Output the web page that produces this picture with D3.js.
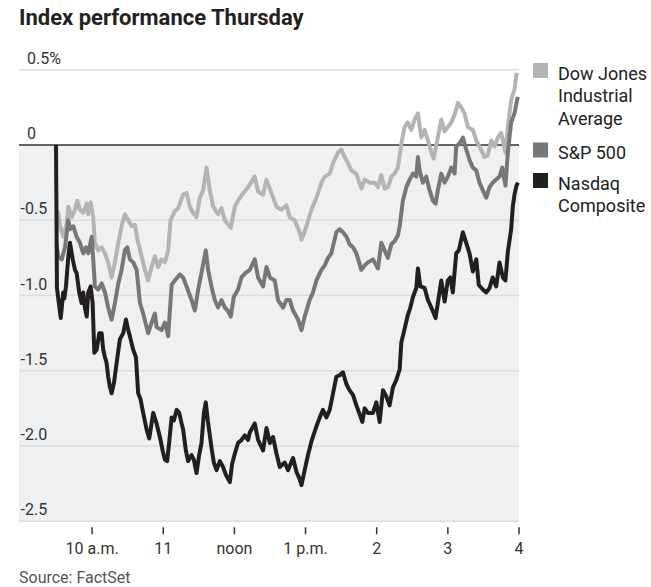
<!DOCTYPE html>
<html><head><meta charset="utf-8">
<script src="https://cdn.jsdelivr.net/npm/d3@7"></script>
<style>
body{margin:0;background:#fff;}
svg{display:block;font-family:Roboto,"Noto Sans",sans-serif;}
</style>
</head><body>
<svg id="chart" width="651" height="587"></svg>
<script>
const title = "Index performance Thursday";
const source = "Source: FactSet";
const seriesNames = ["Dow Jones Industrial Average", "S&P 500", "Nasdaq Composite"];
const legendLines = [["Dow Jones", "Industrial", "Average"], ["S&P 500"], ["Nasdaq", "Composite"]];
const seriesColors = ["#b4b4b6", "#77777a", "#231f20"];
const yTicks = [0.5, 0, -0.5, -1, -1.5, -2, -2.5];
const yTickLabels = ["0.5%", "0", "-0.5", "-1.0", "-1.5", "-2.0", "-2.5"];
const xTickHours = [10, 11, 12, 13, 14, 15, 16];
const xTickLabels = ["10 a.m.", "11", "noon", "1 p.m.", "2", "3", "4"];

// [minutes after 9:30 a.m., % change]
const dow = [[0.4,-0.53],[1.9,-0.45],[3.4,-0.54],[6.1,-0.61],[9,-0.52],[10.4,-0.41],[13.2,-0.48],[16,-0.43],[17.9,-0.37],[20.2,-0.43],[23,-0.45],[25.9,-0.39],[27.2,-0.46],[29.2,-0.38],[31.4,-0.48],[32.8,-0.65],[35.6,-0.70],[38.5,-0.68],[41.3,-0.72],[44,-0.78],[46.9,-0.88],[49.7,-0.78],[52.5,-0.65],[55.3,-0.54],[58.1,-0.46],[60.9,-0.50],[63.8,-0.54],[66.5,-0.53],[69.3,-0.65],[72.2,-0.74],[75,-0.83],[77.7,-0.90],[80.6,-0.81],[83.4,-0.74],[86.2,-0.81],[89,-0.76],[91.8,-0.78],[94.6,-0.70],[96.6,-0.50],[100.2,-0.44],[103,-0.42],[107.2,-0.33],[110.1,-0.32],[112.9,-0.41],[115.6,-0.45],[118.5,-0.48],[121.3,-0.35],[124.1,-0.30],[126.9,-0.15],[129.7,-0.30],[132.5,-0.41],[136.7,-0.46],[139.6,-0.42],[142.3,-0.50],[147.4,-0.55],[150.8,-0.41],[153.5,-0.37],[157.8,-0.32],[162,-0.28],[167.6,-0.21],[170.4,-0.31],[174.6,-0.33],[177.5,-0.23],[181.7,-0.32],[185.9,-0.41],[190.1,-0.43],[194.3,-0.40],[197.1,-0.48],[201.3,-0.50],[205.5,-0.58],[207,-0.63],[211.2,-0.54],[215.4,-0.43],[219.6,-0.35],[223.8,-0.25],[226.6,-0.21],[230.8,-0.19],[233.6,-0.12],[237.8,-0.05],[240.6,-0.03],[243.4,-0.08],[246.2,-0.12],[249.1,-0.17],[253.3,-0.19],[257.5,-0.29],[260.3,-0.23],[264.5,-0.25],[268.7,-0.25],[271.5,-0.28],[274.3,-0.20],[277.1,-0.29],[279.9,-0.28],[282.8,-0.21],[285.5,-0.19],[288.3,-0.15],[291.2,0.01],[294,0.12],[296.7,0.15],[299.6,0.10],[302.4,0.17],[305.2,0.21],[308,0.05],[310.8,0.10],[313.6,0.03],[316.5,-0.05],[318.4,-0.09],[322,0.05],[324.9,0.17],[327.7,0.09],[330.4,0.12],[333.3,0.15],[336.1,0.20],[338.9,0.28],[341.7,0.25],[344.5,0.21],[347.3,0.12],[351.5,0.10],[354.4,0.03],[357.1,-0.01],[361.3,-0.08],[364.1,-0.07],[367,0.03],[369.8,-0.01],[372.6,0.05],[375.4,0.08],[379,-0.05],[381,0.12],[383.8,0.30],[386.6,0.37],[388.5,0.48]];

const sp500 = [[0.4,-0.66],[1.9,-0.74],[4.8,-0.76],[7.6,-0.68],[10.4,-0.50],[11.8,-0.56],[14.6,-0.54],[17.4,-0.61],[20.2,-0.65],[23,-0.72],[25.3,-0.68],[27.2,-0.72],[30.1,-0.61],[31.4,-0.76],[32.8,-0.94],[35.6,-0.96],[38.5,-0.92],[41.3,-0.98],[44,-1.08],[46.9,-1.16],[49.7,-1.05],[52.5,-0.92],[55.3,-0.83],[58.1,-0.70],[60.1,-0.68],[62.3,-0.76],[65.1,-0.78],[68,-0.83],[70.8,-1.05],[73.5,-1.12],[77.7,-1.25],[80.6,-1.18],[83.4,-1.12],[84.8,-1.21],[89,-1.23],[91.8,-1.18],[94.6,-1.27],[97.5,-0.93],[100.2,-0.90],[104.4,-0.86],[107.2,-0.88],[110.1,-0.94],[114.3,-1.03],[117.1,-1.10],[119.9,-0.96],[122.7,-0.85],[126.3,-0.70],[128.3,-0.83],[131.1,-0.94],[133.9,-1.03],[136.7,-1.08],[139.6,-1.03],[142.3,-1.08],[144.9,-1.10],[147.4,-1.14],[149.9,-1.01],[153.5,-0.96],[156.4,-0.88],[159.8,-0.85],[163.4,-0.83],[167.6,-0.76],[170.4,-0.88],[174.6,-0.94],[177.5,-0.81],[180.3,-0.88],[184.5,-0.90],[187.2,-1.03],[191.5,-1.08],[194.3,-1.03],[197.1,-1.03],[199.9,-1.10],[204.1,-1.16],[207,-1.23],[209.7,-1.14],[213.9,-1.03],[216.7,-0.98],[219.6,-0.90],[223.8,-0.83],[226.6,-0.80],[229.4,-0.75],[232.2,-0.72],[236.4,-0.58],[239.2,-0.56],[242,-0.58],[244.9,-0.61],[247.6,-0.66],[250.4,-0.68],[253.3,-0.72],[257.5,-0.83],[260.3,-0.80],[263,-0.78],[267.3,-0.76],[271.5,-0.82],[274.3,-0.65],[277.1,-0.70],[279.9,-0.75],[282.8,-0.66],[285.5,-0.64],[288.3,-0.60],[289.8,-0.54],[292.5,-0.37],[295.4,-0.28],[298.2,-0.23],[301,-0.19],[303.8,-0.21],[305.2,-0.08],[306.6,-0.17],[309.4,-0.25],[312.2,-0.21],[315,-0.30],[317.8,-0.37],[320.1,-0.39],[322,-0.30],[324.9,-0.19],[327.7,-0.25],[330.4,-0.21],[333.3,-0.15],[336.1,-0.19],[337.5,-0.01],[340.3,0.01],[343.1,0.05],[345.9,-0.03],[348.7,-0.10],[351.5,-0.15],[354.4,-0.17],[357.1,-0.25],[359.9,-0.30],[362.8,-0.35],[365.6,-0.28],[368.3,-0.25],[371.2,-0.23],[374,-0.21],[376.3,-0.15],[379,-0.27],[381,-0.05],[383.8,0.15],[386.6,0.21],[389.4,0.32]];

const nasdaq = [[0,0],[0.8,-0.95],[4,-1.15],[6.1,-0.98],[7,-1.02],[8.4,-0.94],[10.4,-0.74],[11.8,-0.65],[14.1,-0.76],[16,-0.83],[17.4,-0.85],[19.6,-0.98],[21.6,-1.05],[23,-0.98],[24.4,-1.08],[25.9,-1.14],[27.2,-0.98],[29.2,-0.94],[30.9,-1.05],[32.3,-1.38],[34.3,-1.36],[36.5,-1.25],[38.5,-1.25],[39.8,-1.36],[41.3,-1.41],[42.7,-1.45],[44,-1.54],[45.5,-1.61],[46.9,-1.65],[48.9,-1.58],[51.1,-1.45],[53.9,-1.29],[56.7,-1.25],[59,-1.16],[60.9,-1.23],[62.3,-1.27],[65.1,-1.36],[67.4,-1.41],[69.3,-1.65],[71.3,-1.69],[73.5,-1.78],[76.4,-1.89],[78.6,-1.95],[80.6,-1.85],[82,-1.78],[84.8,-1.85],[87.6,-1.94],[89.9,-2.03],[91.8,-2.09],[93.7,-2.10],[95.4,-1.98],[97.5,-1.81],[99.4,-1.83],[101.7,-1.76],[103.9,-1.78],[105.9,-1.85],[107.2,-1.89],[109.5,-2.03],[111.4,-2.10],[114.3,-2.06],[116.2,-2.09],[118.5,-2.18],[120.7,-2.06],[122.7,-1.98],[124.7,-1.78],[126.3,-1.71],[128,-1.83],[131.1,-2.01],[133.1,-2.11],[135.4,-2.16],[138.1,-2.10],[140.9,-2.14],[143.2,-2.19],[146.6,-2.24],[148.5,-2.12],[150.8,-2.05],[153.5,-1.98],[156.4,-1.96],[159.2,-1.93],[162,-1.96],[163.4,-1.91],[167.6,-1.85],[170.4,-1.96],[174.6,-2.03],[177.5,-1.88],[180.3,-1.98],[183,-1.94],[185.9,-2.05],[188.7,-2.14],[192.9,-2.11],[195.7,-2.16],[199.9,-2.08],[202.7,-2.17],[205.5,-2.22],[207,-2.26],[209.7,-2.16],[212.5,-2.06],[215.4,-1.97],[219.6,-1.87],[222.4,-1.81],[225.1,-1.76],[228,-1.81],[230.8,-1.76],[233.6,-1.65],[236.4,-1.54],[239.2,-1.53],[242,-1.51],[244.9,-1.59],[247.6,-1.63],[250.4,-1.66],[253.3,-1.73],[256.1,-1.79],[258.3,-1.84],[260.3,-1.75],[263,-1.78],[267.3,-1.78],[270.1,-1.71],[272.9,-1.84],[275.7,-1.63],[278.5,-1.67],[281.3,-1.73],[284.1,-1.61],[287,-1.56],[289.8,-1.49],[291.2,-1.31],[293.1,-1.25],[296.7,-1.13],[298.8,-1.08],[301,-1.01],[303.8,-0.95],[305.2,-0.82],[307.2,-0.94],[310.8,-0.95],[313.6,-1.03],[316.5,-1.08],[320.1,-1.15],[322,-1.05],[324.9,-0.90],[327.7,-1.04],[330.4,-0.90],[332.5,-0.88],[334.6,-0.98],[337.5,-0.72],[339.7,-0.70],[343.1,-0.58],[345.9,-0.65],[348.7,-0.72],[351.5,-0.84],[354.4,-0.76],[356.5,-0.93],[359.9,-0.96],[362.8,-0.98],[365.6,-0.95],[368.3,-0.88],[371.2,-0.94],[374,-0.78],[376.8,-0.88],[379,-0.90],[381,-0.71],[383.8,-0.56],[385.2,-0.41],[386.6,-0.33],[388.3,-0.27],[389.6,-0.25]];

const seriesData = [dow, sp500, nasdaq];

const svg = d3.select("#chart");
const frameLeft = 19, frameRight = 519;
const openTime = new Date(2024, 0, 4, 9, 30);
const toDate = m => new Date(openTime.getTime() + m * 60000);

const x = d3.scaleTime()
  .domain([openTime, new Date(2024, 0, 4, 16, 0)])
  .range([56, 518.5]);
const y = d3.scaleLinear().domain([0.5, -2.5]).range([69.75, 521.25]);

// title
svg.append("text").attr("x", 19).attr("y", 25)
  .attr("font-size", 22).attr("font-weight", 700).attr("fill", "#222")
  .text(title);

// shaded negative region
svg.append("rect")
  .attr("x", frameLeft).attr("y", y(0))
  .attr("width", frameRight - frameLeft).attr("height", y(-2.5) - y(0))
  .attr("fill", "#eff0f2");

// gridlines
const grid = svg.append("g");
yTicks.forEach((t) => {
  if (t === 0) return;
  grid.append("line")
    .attr("x1", frameLeft).attr("x2", frameRight)
    .attr("y1", y(t)).attr("y2", y(t))
    .attr("stroke", "#dcdcde").attr("stroke-width", 1.5);
});

// y labels
const yl = svg.append("g").attr("font-size", 16).attr("fill", "#333");
const probe = yl.append("text").text("-");
const minusW = probe.node().getComputedTextLength();
probe.remove();
yTicks.forEach((t, i) => {
  const lab = yTickLabels[i];
  const neg = lab.startsWith("-");
  yl.append("text")
    .attr("x", neg ? 27 - minusW - 2 : 27)
    .attr("y", y(t) - 6)
    .text(lab);
});

// x axis
const xAxis = d3.axisBottom(x)
  .tickValues(xTickHours.map(h => new Date(2024, 0, 4, h, 0)))
  .tickFormat((d, i) => xTickLabels[i])
  .tickSize(7).tickPadding(8);
const xg = svg.append("g").attr("transform", `translate(0,${y(-2.5) + 6})`).call(xAxis);
xg.select(".domain").remove();
xg.selectAll(".tick line").attr("stroke", "#333").attr("stroke-width", 1.5);
xg.selectAll(".tick text").attr("font-size", 16).attr("fill", "#333")
  .attr("font-family", "Roboto, 'Noto Sans', sans-serif");

// zero line
svg.append("line")
  .attr("x1", frameLeft).attr("x2", frameRight)
  .attr("y1", y(0)).attr("y2", y(0))
  .attr("stroke", "#333").attr("stroke-width", 1.5);

// lines
const line = d3.line().x(d => x(toDate(d[0]))).y(d => y(d[1]));
seriesData.forEach((data, i) => {
  svg.append("path").datum(data)
    .attr("d", line)
    .attr("fill", "none")
    .attr("stroke", seriesColors[i])
    .attr("stroke-width", 4)
    .attr("stroke-linejoin", "round")
    .attr("stroke-linecap", "butt");
});

// legend
const legendTops = [63, 142.5, 173];
const lg = svg.append("g").attr("font-size", 18).attr("fill", "#222");
legendLines.forEach((lines, i) => {
  lg.append("rect").attr("x", 533).attr("y", legendTops[i])
    .attr("width", 15).attr("height", 15).attr("fill", seriesColors[i]);
  const t = lg.append("text").attr("x", 558).attr("y", legendTops[i] + 16.5);
  lines.forEach((s, j) => {
    t.append("tspan").attr("x", 558).attr("dy", j === 0 ? 0 : 22.5).text(s);
  });
});

// source
svg.append("text").attr("x", 19).attr("y", 583)
  .attr("font-size", 16).attr("fill", "#555").text(source);
</script>
</body></html>
